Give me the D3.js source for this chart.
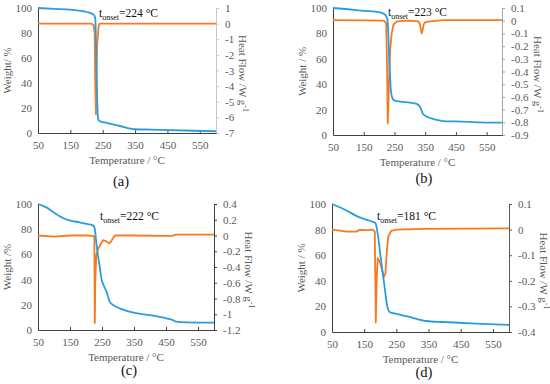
<!DOCTYPE html>
<html lang="en">
<head>
    <meta charset="utf-8">
    <script type="text/javascript" src="https://d3js.org/d3.v7.min.js"></script>
    <style>
        body { margin: 0; background: #fff; }
        svg text { font-family: "Liberation Serif", "DejaVu Serif", serif !important; }
    </style>
</head>
<body>
<div id="chart"></div>
<script type="text/javascript">
  // shared ticks
  const xTicks = [50, 150, 250, 350, 450, 550];
  const weightTicks = [0, 20, 40, 60, 80, 100];

  // (a)
  const tempWeightA = [50, 100, 150, 200, 222, 227, 230, 233, 236, 240, 255, 300, 350, 400, 500, 600];
  const weightA = [100, 99.3, 98.7, 96.8, 94.7, 92, 60, 25, 11, 9.5, 8.5, 5.8, 3, 2.7, 2, 1.4];
  const tempHeatA = [50, 215, 222, 225, 227, 229, 231, 233, 235, 237, 240, 600];
  const heatA = [0, 0, -0.1, -0.6, -4, -5.8, -3, -1.2, -0.8, -0.2, 0, 0];
  const heatTicksA = [-7, -6, -5, -4, -3, -2, -1, 0, 1];

  // (b)
  const tempWeightB = [50, 100, 150, 200, 220, 227, 230, 233, 236, 238, 242, 247, 255, 268, 300, 322, 333, 342, 355, 380, 409, 470, 520, 600];
  const weightB = [100, 99, 97.8, 96.8, 94.7, 91, 80, 59, 45, 36, 30, 27.6, 26.8, 26.3, 25.5, 24.5, 22.3, 17, 14.5, 12.3, 11, 10.5, 10, 9.7];
  const tempHeatB = [50, 150, 215, 223, 226, 228, 230, 232, 236, 241, 247, 258, 300, 328, 333, 336, 339, 342, 345, 350, 366, 410, 600];
  const heatB = [0.005, 0.003, 0, -0.02, -0.36, -0.81, -0.7, -0.49, -0.23, -0.1, -0.03, -0.005, 0, -0.005, -0.03, -0.07, -0.1, -0.07, -0.03, -0.012, -0.005, 0.005, 0.005];
  const heatTicksB = [-0.9, -0.8, -0.7, -0.6, -0.5, -0.4, -0.3, -0.2, -0.1, 0, 0.1];

  // (c)
  const tempWeightC = [50, 76, 97, 128, 149, 180, 206, 222, 227, 232, 237, 243, 248, 256, 264, 274, 284, 305, 330, 357, 409, 451, 470, 482, 513, 600];
  const weightC = [100, 97.3, 93.6, 88.9, 87, 85.4, 84, 83, 81, 70, 59.8, 50, 41, 35, 30.5, 22.5, 20, 17.2, 15, 13.3, 11.4, 9.3, 8, 6.6, 6.1, 5.8];
  const tempHeatC = [50, 100, 150, 200, 224, 226, 227.5, 229, 232, 237, 243, 253, 262, 272, 279, 290, 350, 450, 470, 480, 600];
  const heatC = [0, -0.015, 0, 0, -0.005, -0.03, -1.11, -0.6, -0.25, -0.18, -0.13, -0.06, -0.07, -0.1, -0.07, 0, 0, -0.005, -0.005, 0.01, 0.01];
  const heatTicksC = [-1.2, -1, -0.8, -0.6, -0.4, -0.2, 0, 0.2, 0.4];

  // (d)
  const tempWeightD = [50, 84, 136, 167, 185, 188, 203, 214, 221, 229, 250, 291, 343, 395, 498, 600];
  const weightD = [100, 96.3, 89.5, 86.9, 85.1, 82.5, 55, 34, 21, 15.7, 14.1, 11.8, 8.6, 7.8, 6.6, 5.6];
  const tempHeatD = [50, 74, 95, 126, 136, 157, 177, 183, 186, 189, 192, 198, 203, 211, 216, 221, 225, 234, 250, 343, 600];
  const heatD = [0, -0.004, -0.008, -0.008, -0.001, -0.002, 0, -0.008, -0.363, -0.19, -0.112, -0.125, -0.145, -0.185, -0.172, -0.073, -0.027, -0.005, 0, 0.003, 0.005];
  const heatTicksD = [-0.4, -0.3, -0.2, -0.1, 0, 0.1];

  const onsetValues = ["224", "223", "222", "181"];
  const panelNames = ["(a)", "(b)", "(c)", "(d)"];
  const weightTitles = ["Weight/ %", "Weight / %", "Weight /%", "Weight / %"];

  const serif = "Liberation Serif, DejaVu Serif, serif";

  const svg = d3.select("#chart")
    .append("svg")
    .attr("width", 550)
    .attr("height", 384)
    .attr("font-family", serif);

  const blue = "#2a9ce0", orange = "#f57a22", grey = "#595959";

  // layout of the four panels
  const panels = [
    {tw: tempWeightA, w: weightA, th: tempHeatA, h: heatA, rt: heatTicksA,
     left: 38, right: 216, top: 8, bottom: 133, rAxis: "#c8c8c8", rTitle: 23,
     onset: [99, 17], label: [121, 186]},
    {tw: tempWeightB, w: weightB, th: tempHeatB, h: heatB, rt: heatTicksB,
     left: 333, right: 502, top: 8, bottom: 135, rAxis: "#a6a6a6", rTitle: 32,
     onset: [388, 16], label: [424, 183]},
    {tw: tempWeightC, w: weightC, th: tempHeatC, h: heatC, rt: heatTicksC,
     left: 38, right: 214, top: 204, bottom: 330, rAxis: "#404040", rTitle: 31,
     onset: [100, 220], label: [129, 375]},
    {tw: tempWeightD, w: weightD, th: tempHeatD, h: heatD, rt: heatTicksD,
     left: 332, right: 509, top: 204, bottom: 332, rAxis: "#595959", rTitle: 31,
     onset: [377, 220], label: [424, 377]}
  ];

  function styleAxis(sel, domainColor) {
    sel.attr("font-family", serif).attr("font-size", 11);
    sel.select(".domain").attr("stroke", domainColor).attr("stroke-width", 1);
    sel.selectAll(".tick line").attr("stroke", domainColor);
    sel.selectAll("text").attr("fill", grey);
  }

  panels.forEach((p, i) => {
    const x = d3.scaleLinear().domain([50, 600]).range([p.left, p.right]);
    const yW = d3.scaleLinear().domain([0, 100]).range([p.bottom, p.top]);
    const yH = d3.scaleLinear().domain(d3.extent(p.rt)).range([p.bottom, p.top]);
    const g = svg.append("g");

    // right axis first so the other lines sit on top
    g.append("g").attr("transform", "translate(" + p.right + ",0)")
      .call(d3.axisRight(yH).tickValues(p.rt).tickSizeInner(3).tickSizeOuter(0).tickPadding(6)
        .tickFormat(d => String(+d.toFixed(2))))
      .call(s => styleAxis(s, p.rAxis));

    g.append("g").attr("transform", "translate(0," + p.bottom + ")")
      .call(d3.axisBottom(x).tickValues(xTicks).tickSizeInner(-3).tickSizeOuter(0).tickPadding(8))
      .call(s => styleAxis(s, "#404040"));

    g.append("g").attr("transform", "translate(" + p.left + ",0)")
      .call(d3.axisLeft(yW).tickValues(weightTicks).tickSizeInner(0).tickSizeOuter(0).tickPadding(6))
      .call(s => styleAxis(s, "#404040"));

    // heat flow
    g.append("path")
      .datum(d3.zip(p.th, p.h))
      .attr("fill", "none")
      .attr("stroke", orange)
      .attr("stroke-width", 1.8)
      .attr("stroke-linejoin", "round")
      .attr("d", d3.line().x(d => x(d[0])).y(d => yH(d[1])));

    // weight
    g.append("path")
      .datum(d3.zip(p.tw, p.w))
      .attr("fill", "none")
      .attr("stroke", blue)
      .attr("stroke-width", 1.8)
      .attr("stroke-linejoin", "round")
      .attr("d", d3.line().curve(d3.curveMonotoneX).x(d => x(d[0])).y(d => yW(d[1])));

    // titles
    const midY = (p.top + p.bottom) / 2;
    g.append("text")
      .attr("transform", "translate(" + (p.left - 27) + "," + midY + ") rotate(-90)")
      .attr("text-anchor", "middle")
      .attr("fill", grey)
      .attr("font-size", 11)
      .text(weightTitles[i]);

    const rt = g.append("text")
      .attr("transform", "translate(" + (p.right + p.rTitle) + "," + (midY + 3) + ") rotate(90)")
      .attr("text-anchor", "middle")
      .attr("fill", grey)
      .attr("font-size", 11);
    rt.append("tspan").text("Heat Flow /W g");
    rt.append("tspan").attr("dy", -4).attr("font-size", 8).text("-1");

    g.append("text")
      .attr("x", (p.left + p.right) / 2)
      .attr("y", p.bottom + 31)
      .attr("text-anchor", "middle")
      .attr("fill", grey)
      .attr("font-size", 11)
      .text("Temperature / °C");

    const ot = g.append("text")
      .attr("x", p.onset[0])
      .attr("y", p.onset[1])
      .attr("fill", "#111")
      .attr("font-size", 11.5);
    ot.append("tspan").text("t");
    ot.append("tspan").attr("dy", 3).attr("font-size", 8).text("onset");
    ot.append("tspan").attr("dy", -3).text("=" + onsetValues[i] + " °C");

    g.append("text")
      .attr("x", p.label[0])
      .attr("y", p.label[1])
      .attr("text-anchor", "middle")
      .attr("fill", "#111")
      .attr("font-size", 14.5)
      .text(panelNames[i]);
  });
</script>
</body>
</html>
